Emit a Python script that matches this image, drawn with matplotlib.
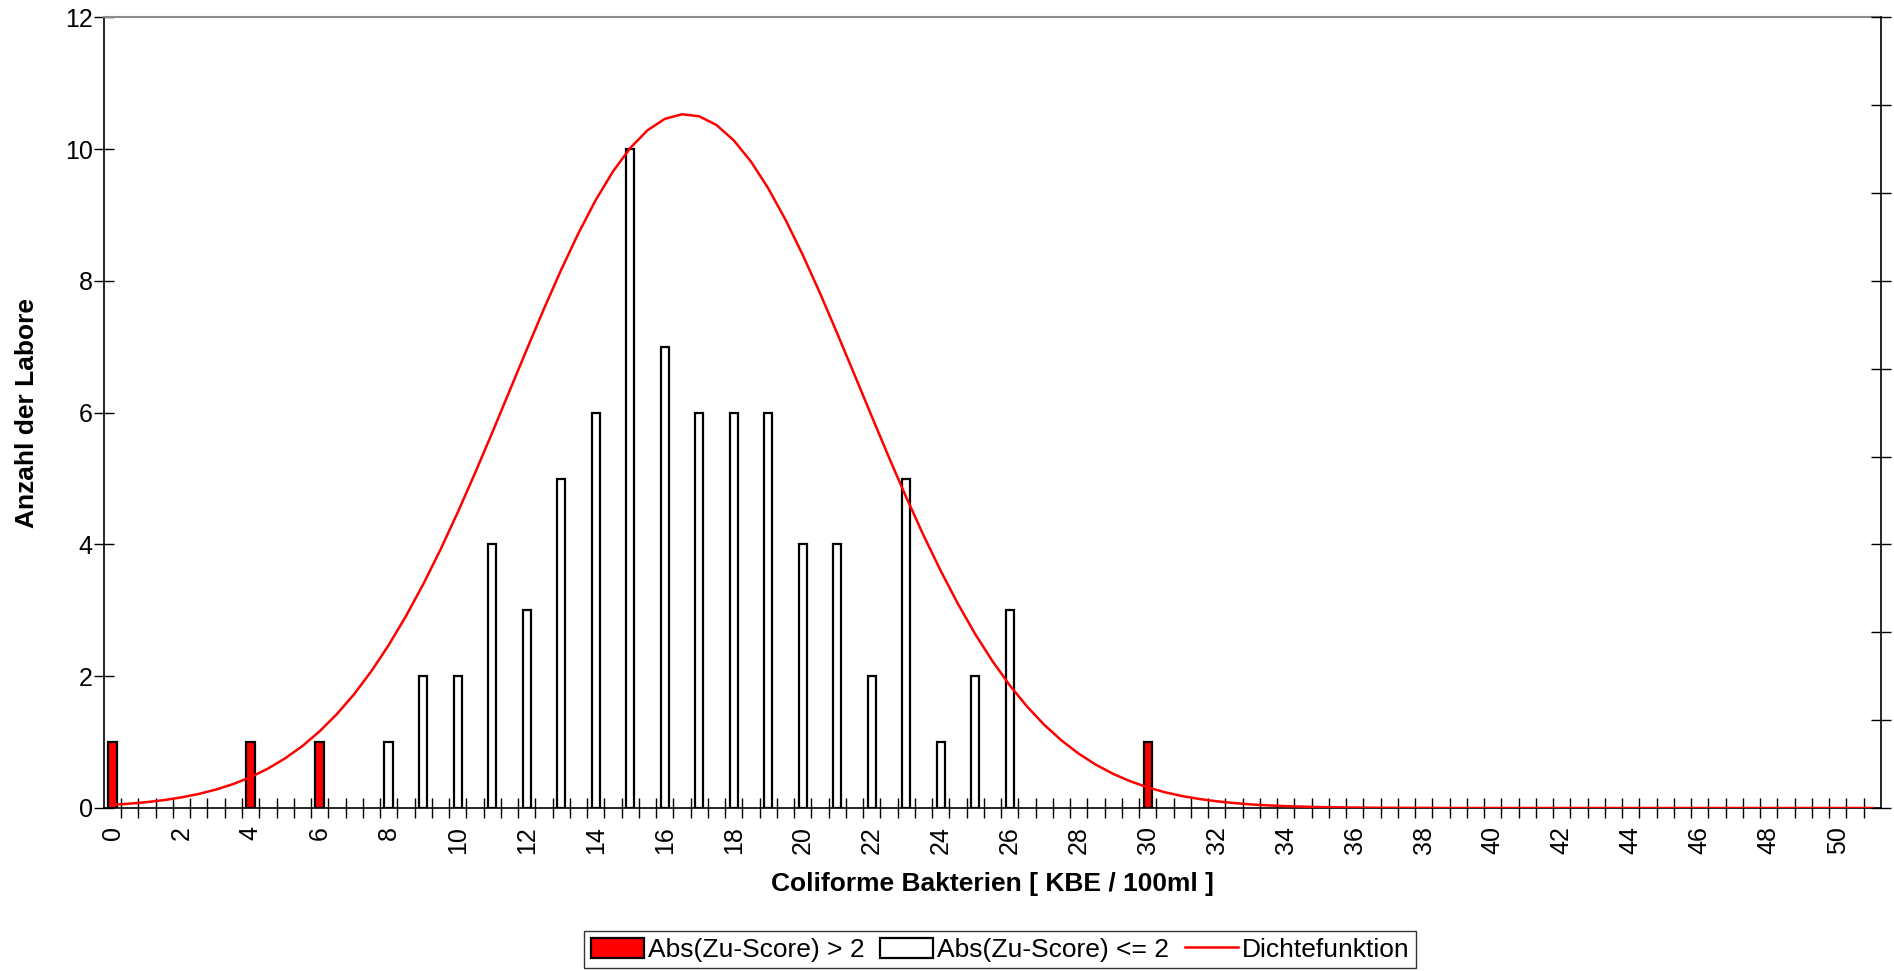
import matplotlib
matplotlib.use("Agg")
import matplotlib.pyplot as plt
import numpy as np
from matplotlib.ticker import FixedLocator, NullFormatter

# --- DATA ---
# Labs with |Zu-Score| > 2 (red bars)
RED_X = [0, 4, 6, 30]
RED_COUNTS = [1, 1, 1, 1]

# Labs with |Zu-Score| <= 2 (white bars)
WHITE_X = [8, 9, 10, 11, 12, 13, 14, 15, 16, 17, 18, 19, 20, 21, 22, 23, 24, 25, 26]
WHITE_COUNTS = [1, 2, 2, 4, 3, 5, 6, 10, 7, 6, 6, 6, 4, 4, 2, 5, 1, 2, 3]

# Density curve (secondary axis, unlabeled), read every half unit from 0 to 51
DENSITY_X = [i * 0.5 for i in range(103)]
DENSITY_Y = [
    0.00036, 0.00049, 0.00067, 0.00090, 0.00121, 0.00160, 0.00210, 0.00273,
    0.00351, 0.00448, 0.00565, 0.00705, 0.00873, 0.01069, 0.01296, 0.01558,
    0.01853, 0.02183, 0.02545, 0.02940, 0.03363, 0.03809, 0.04271, 0.04744,
    0.05217, 0.05682, 0.06127, 0.06543, 0.06920, 0.07246, 0.07513, 0.07715,
    0.07845, 0.07898, 0.07875, 0.07776, 0.07602, 0.07360, 0.07056, 0.06699,
    0.06298, 0.05863, 0.05404, 0.04934, 0.04460, 0.03992, 0.03538, 0.03106,
    0.02700, 0.02324, 0.01980, 0.01672, 0.01397, 0.01156, 0.00947, 0.00769,
    0.00618, 0.00492, 0.00388, 0.00303, 0.00234, 0.00179, 0.00135, 0.00102,
    0.00076, 0.00056, 0.00040, 0.00029, 0.00021, 0.00015, 0.00010, 0.00007,
    0.00005, 0.00003, 0.00002, 0.00001, 0.00001,
    0.0, 0.0, 0.0, 0.0, 0.0, 0.0, 0.0, 0.0, 0.0, 0.0, 0.0, 0.0, 0.0,
    0.0, 0.0, 0.0, 0.0, 0.0, 0.0, 0.0, 0.0, 0.0, 0.0, 0.0, 0.0, 0.0,
]

X_TICK_LABELS = list(range(0, 51, 2))

# --- STYLE ---
plt.rcParams['font.family'] = ['Liberation Sans', 'DejaVu Sans']
TICK_FS = 18
LABEL_FS = 19

fig = plt.figure(figsize=(18.94, 9.71), dpi=100)
ax = fig.add_axes([0.0549, 0.1679, 0.9382, 0.8141])

bar_w = 0.24
ax.bar(RED_X, RED_COUNTS, width=bar_w, color='#FF0000', edgecolor='black',
       linewidth=1.6, label='Abs(Zu-Score) > 2', zorder=3)
ax.bar(WHITE_X, WHITE_COUNTS, width=bar_w, color='white', edgecolor='black',
       linewidth=1.6, label='Abs(Zu-Score) <= 2', zorder=3)

ax.set_xlim(-0.25, 51.25)
ax.set_ylim(0, 12)
ax.set_yticks(range(0, 13, 2))
ax.tick_params(axis='y', which='major', direction='inout', length=14, width=1,
               labelsize=TICK_FS, pad=1)

# x axis: labels every 2, tick marks between the half-unit categories
ax.xaxis.set_major_locator(FixedLocator(X_TICK_LABELS))
ax.set_xticklabels([str(v) for v in X_TICK_LABELS], rotation=90)
ax.tick_params(axis='x', which='major', length=0, labelsize=TICK_FS, pad=13)
ax.xaxis.set_minor_locator(FixedLocator(np.arange(0.25, 51.0, 0.5)))
ax.xaxis.set_minor_formatter(NullFormatter())
ax.tick_params(axis='x', which='minor', direction='inout', length=14, width=1)

ax.set_xlabel('Coliforme Bakterien [ KBE / 100ml ]', fontsize=LABEL_FS,
              fontweight='bold', labelpad=13)
ax.set_ylabel('Anzahl der Labore', fontsize=LABEL_FS, fontweight='bold', labelpad=19)

for side in ['left', 'bottom']:
    ax.spines[side].set_color('black')
    ax.spines[side].set_linewidth(1.2)
ax.spines['top'].set_color('#8c8c8c')
ax.spines['top'].set_linewidth(1.5)
ax.spines['right'].set_visible(False)

# secondary axis for the density curve
ax2 = ax.twinx()
ax2.plot(DENSITY_X, DENSITY_Y, color='#FF0000', linewidth=1.8, label='Dichtefunktion',
         zorder=4)
ax2.set_ylim(0, 0.09)
ax2.set_yticks(np.arange(0, 0.0901, 0.01))
ax2.yaxis.set_major_formatter(NullFormatter())
ax2.tick_params(axis='y', direction='inout', length=14, width=1)
for side in ['left', 'top', 'bottom']:
    ax2.spines[side].set_visible(False)
ax2.spines['right'].set_color('black')
ax2.spines['right'].set_linewidth(1.2)

h1, l1 = ax.get_legend_handles_labels()
h2, l2 = ax2.get_legend_handles_labels()
leg = fig.legend(h1 + h2, l1 + l2, loc='center', bbox_to_anchor=(0.528, 0.022),
                 ncol=3, fontsize=LABEL_FS, frameon=True, fancybox=False,
                 handlelength=2.0, handleheight=0.8, handletextpad=0.15,
                 columnspacing=0.6, borderpad=0.25)
leg.get_frame().set_edgecolor('black')
leg.get_frame().set_linewidth(1.0)

fig.savefig('out.png', dpi=100)
